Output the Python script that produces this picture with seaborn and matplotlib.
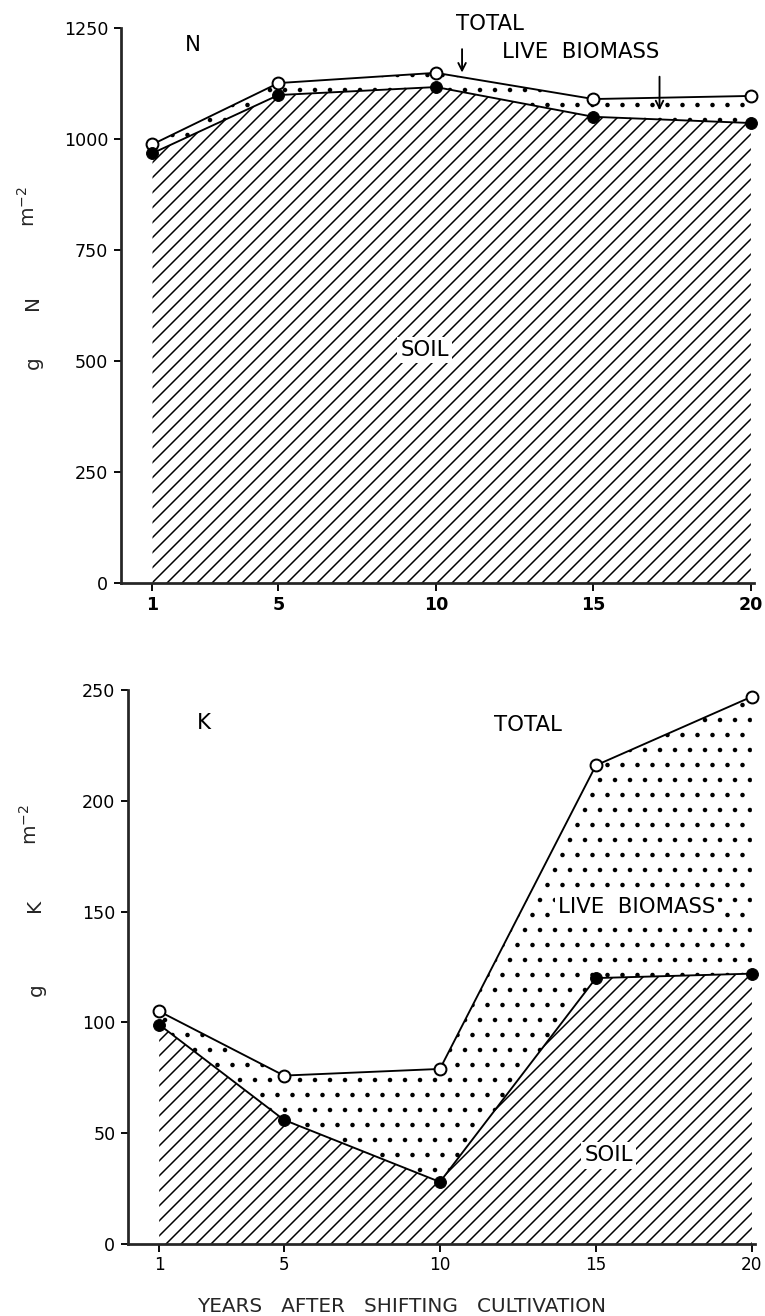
import matplotlib
matplotlib.use("Agg")
import matplotlib.pyplot as plt
import seaborn as sns

# Nutrient pools after shifting cultivation
years = [1, 5, 10, 15, 20]
n_soil = [968, 1099, 1117, 1050, 1036]
n_total = [988, 1126, 1149, 1090, 1097]
k_soil = [99, 56, 28, 120, 122]
k_total = [105, 76, 79, 216, 247]
n_yticks = [0, 250, 500, 750, 1000, 1250]
k_yticks = [0, 50, 100, 150, 200, 250]

sns.set_style("ticks")
plt.rcParams["font.family"] = ["DejaVu Sans"]
plt.rcParams["hatch.linewidth"] = 1.2
plt.rcParams["hatch.color"] = "black"

DPI = 90
W, H = 765, 1316
fig = plt.figure(figsize=(W / DPI, H / DPI), dpi=DPI)
ax1 = fig.add_axes([121 / W, 1 - 583 / H, 633 / W, 555 / H])
ax2 = fig.add_axes([128 / W, 1 - 1244 / H, 627 / W, 554 / H])


def panel(ax, soil, total, yticks, bold_x, xsize):
    ax.fill_between(years, 0, soil, facecolor="white", edgecolor="black",
                    hatch="//", linewidth=0, zorder=1)
    ax.fill_between(years, soil, total, facecolor="white", edgecolor="black",
                    hatch=".", linewidth=0, zorder=1)
    sns.lineplot(x=years, y=total, ax=ax, color="black", lw=1.5, marker="o",
                 markersize=9.5, markerfacecolor="white",
                 markeredgecolor="black", markeredgewidth=1.6, zorder=3,
                 clip_on=False)
    sns.lineplot(x=years, y=soil, ax=ax, color="black", lw=1.5, marker="o",
                 markersize=9.5, markerfacecolor="black",
                 markeredgecolor="black", zorder=4, clip_on=False)
    ax.set_xlim(0, 20.1)
    ax.set_ylim(0, yticks[-1])
    ax.set_xticks(years)
    ax.set_yticks(yticks)
    sns.despine(ax=ax)
    for s in ("left", "bottom"):
        ax.spines[s].set_linewidth(2.2)
    ax.tick_params(direction="out", length=6, width=1.5, labelsize=14, pad=4,
                   colors="black")
    ax.tick_params(axis="x", labelsize=xsize)
    if bold_x:
        for lab in ax.get_xticklabels():
            lab.set_fontweight("bold")
    ax.set_xlabel("")
    ax.set_ylabel("")
    ax.grid(False)


panel(ax1, n_soil, n_total, n_yticks, True, 14)
panel(ax2, k_soil, k_total, k_yticks, False, 13.5)

txt = dict(fontsize=17, color="black")
white_box = dict(boxstyle="square,pad=0.15", facecolor="white", edgecolor="none")

# Nitrogen panel annotations
ax1.text(2.29, 1212, "N", ha="center", va="center", **txt)
ax1.text(11.7, 1259, "TOTAL", ha="center", va="center", clip_on=False, **txt)
ax1.annotate("", xy=(10.83, 1144), xytext=(10.83, 1208),
             arrowprops=dict(arrowstyle="->,head_length=0.6,head_width=0.3",
                             color="black", lw=1.5), annotation_clip=False)
ax1.text(14.6, 1196, "LIVE  BIOMASS", ha="center", va="center", **txt)
ax1.annotate("", xy=(17.1, 1059), xytext=(17.1, 1146),
             arrowprops=dict(arrowstyle="->,head_length=0.6,head_width=0.3",
                             color="black", lw=1.5))
ax1.text(9.65, 525, "SOIL", ha="center", va="center", bbox=white_box,
         zorder=5, **txt)

# Potassium panel annotations
ax2.text(2.44, 235, "K", ha="center", va="center", **txt)
ax2.text(12.83, 234, "TOTAL", ha="center", va="center", **txt)
ax2.text(16.3, 152, "LIVE  BIOMASS", ha="center", va="center",
         bbox=white_box, zorder=5, **txt)
ax2.text(15.4, 40, "SOIL", ha="center", va="center", bbox=white_box,
         zorder=5, **txt)

ax2.set_xlabel("YEARS   AFTER   SHIFTING   CULTIVATION", fontsize=16)
ax2.xaxis.set_label_coords(0.436, -0.095)

# Rotated unit labels beside each y axis
def unit_label(x_px, y_px, s):
    fig.text(x_px / W, 1 - y_px / H, s, rotation=90, ha="center",
             va="center", fontsize=16)

unit_label(33, 363, "g")
unit_label(33, 303, "N")
unit_label(28, 207, r"m$^{-2}$")
unit_label(36, 990, "g")
unit_label(35, 905, "K")
unit_label(30, 825, r"m$^{-2}$")

fig.savefig("out.png", dpi=DPI, facecolor="white")
